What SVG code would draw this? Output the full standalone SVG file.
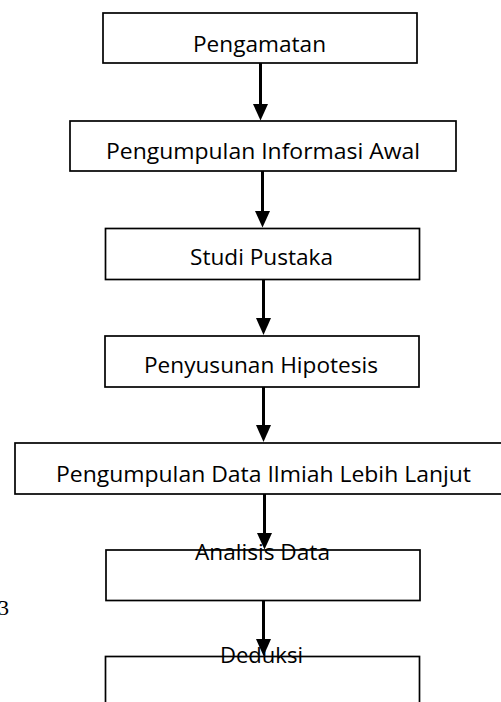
<svg xmlns="http://www.w3.org/2000/svg" width="501" height="702" viewBox="0 0 501 702">
<style>
.box{fill:#fff;stroke:#000;stroke-width:1.7}
.lbl{font-family:"Open Sans","Liberation Sans",sans-serif;font-size:22.5px;fill:#000}
.shaft{stroke:#000;stroke-width:3;fill:none}
.head{fill:#000}
</style>
<rect width="501" height="702" fill="#fff"/>
<g id="n1"><rect class="box" x="103" y="13" width="314" height="50"/><text class="lbl" x="193" y="52" textLength="133" lengthAdjust="spacingAndGlyphs">Pengamatan</text></g>
<g id="n2"><rect class="box" x="70" y="121" width="386" height="50"/><text class="lbl" x="106" y="158.5" textLength="314" lengthAdjust="spacingAndGlyphs">Pengumpulan Informasi Awal</text></g>
<g id="n3"><rect class="box" x="105.5" y="228.5" width="314" height="51"/><text class="lbl" x="190" y="265" textLength="143" lengthAdjust="spacingAndGlyphs">Studi Pustaka</text></g>
<g id="n4"><rect class="box" x="105" y="336" width="314" height="51"/><text class="lbl" x="144" y="373" textLength="234" lengthAdjust="spacingAndGlyphs">Penyusunan Hipotesis</text></g>
<g id="n5"><rect class="box" x="15" y="443" width="500" height="51"/><text class="lbl" x="56" y="481.5" textLength="415" lengthAdjust="spacingAndGlyphs">Pengumpulan Data Ilmiah Lebih Lanjut</text></g>
<g id="n6"><rect class="box" x="106" y="550" width="314" height="50.5"/></g>
<g id="n7"><rect class="box" x="105.5" y="656.5" width="314" height="60"/></g>
<g id="connectors">
<line class="shaft" x1="260.5" y1="63" x2="260.5" y2="106"/><polygon class="head" points="253,104 268,104 260.5,120.5"/>
<line class="shaft" x1="262.5" y1="171" x2="262.5" y2="213"/><polygon class="head" points="255,211 270,211 262.5,227.5"/>
<line class="shaft" x1="263.5" y1="279.5" x2="263.5" y2="320"/><polygon class="head" points="256,318 271,318 263.5,335"/>
<line class="shaft" x1="263.5" y1="387" x2="263.5" y2="427"/><polygon class="head" points="256,425 271,425 263.5,442"/>
<line class="shaft" x1="264.5" y1="494" x2="264.5" y2="535"/><polygon class="head" points="257,533 272,533 264.5,549.5"/>
<line class="shaft" x1="263.5" y1="600.5" x2="263.5" y2="641"/><polygon class="head" points="256,639 271,639 263.5,656"/>
</g>
<g id="labels">
<text class="lbl" x="195" y="559.5" textLength="135" lengthAdjust="spacingAndGlyphs">Analisis Data</text>
<text class="lbl" x="220" y="663" textLength="83" lengthAdjust="spacingAndGlyphs">Deduksi</text>
</g>
<text x="-2" y="615" font-family="Liberation Serif,serif" font-size="22" fill="#000">3</text>
</svg>
